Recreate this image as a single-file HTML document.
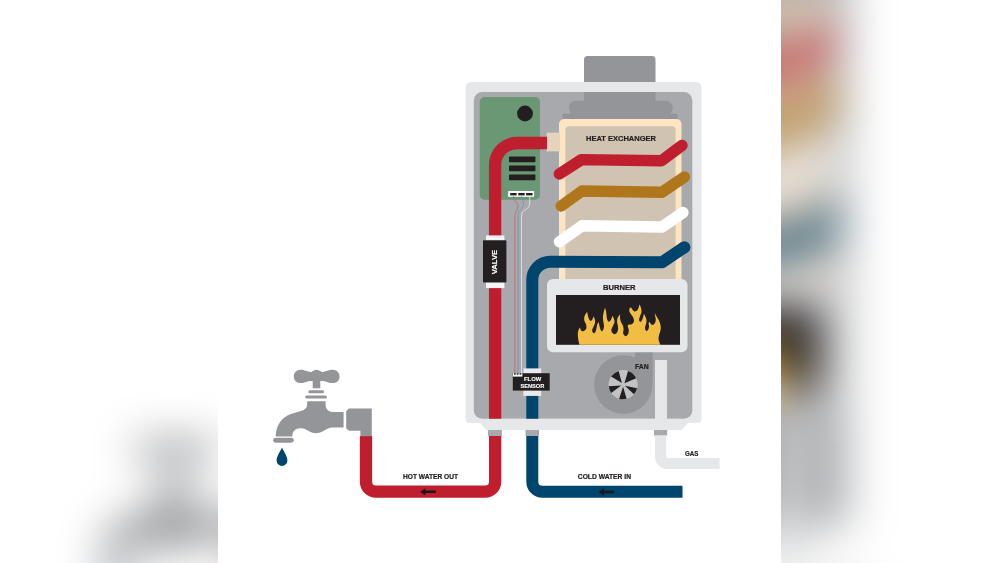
<!DOCTYPE html>
<html>
<head>
<meta charset="utf-8">
<title>Tankless water heater diagram</title>
<style>
html,body{margin:0;padding:0;background:#fff;}
body{width:1000px;height:563px;overflow:hidden;position:relative;font-family:"Liberation Sans",sans-serif;}
svg{position:absolute;left:0;top:0;display:block;}
text{font-family:"Liberation Sans",sans-serif;font-weight:bold;stroke-width:0.22px;paint-order:stroke fill;}
text[fill="#231f20"]{stroke:#231f20;}
text[fill="#fff"]{stroke:#fff;stroke-width:0.12px;}
</style>
</head>
<body>
<svg width="1000" height="563" viewBox="0 0 1000 563">
<defs>
<filter id="blur" filterUnits="userSpaceOnUse" x="0" y="0" width="1000" height="563" color-interpolation-filters="sRGB"><feGaussianBlur stdDeviation="22" edgeMode="duplicate"/></filter>
<g id="d">
<!-- vent cap -->
<path d="M584,82 V59.500 a3.500,3.500 0 0 1 3.500,-3.500 H652 a3.500,3.500 0 0 1 3.500,3.500 V82 Z" fill="#939598"/>
<!-- body outer -->
<path d="M471,82 H696 a5.500,5.500 0 0 1 5.500,5.500 V419 a4,4 0 0 1 -4,4 H688 L681.5,430 H486.5 L480,423 H469.5 a4,4 0 0 1 -4,-4 V87.500 a5.500,5.500 0 0 1 5.500,-5.500 Z" fill="#e6e7e8"/>
<!-- body inner -->
<rect x="473.800" y="92" width="218.500" height="326.800" rx="8.500" ry="8.500" fill="#a7a9ac"/>
<!-- inner vent -->
<rect x="584" y="92" width="71.500" height="15" fill="#939598"/>
<rect x="568.800" y="100.800" width="104" height="13.400" rx="6.600" ry="6.600" fill="#939598"/>
<rect x="562.400" y="113.800" width="115.200" height="7" rx="1.500" ry="1.500" fill="#939598"/>
<rect x="570" y="108" width="100" height="8" fill="#939598"/>
<!-- fan housing -->
<circle cx="623.3" cy="384.5" r="29.2" fill="#939598"/>
<rect x="635" y="350" width="17.700" height="35" fill="#939598"/>
<circle cx="623.1" cy="384.700" r="14.600" fill="#c1c2c4"/>
<g fill="#231f20" transform="translate(623.1,384.700)">
<path d="M-1.20,-1.60 L-12.02,-8.11 A14.5,14.5 0 0 1 -4.48,-13.79 Z"/>
<path d="M1.34,-1.49 L4.96,-13.63 A14.5,14.5 0 0 1 13.03,-6.36 Z"/>
<path d="M1.77,0.94 L14.04,3.63 A14.5,14.5 0 0 1 10.86,9.61 Z"/>
<path d="M-0.03,2.00 L3.51,14.07 A14.5,14.5 0 0 1 -4.00,13.94 Z"/>
<path d="M-1.87,0.70 L-11.95,8.21 A14.5,14.5 0 0 1 -14.41,1.64 Z"/>
</g>
<!-- gas pipe inside -->
<rect x="655" y="360" width="12" height="70" fill="#e6e7e8"/>
<!-- green board -->
<rect x="479.800" y="97" width="60.200" height="102.700" rx="4.800" ry="4.800" fill="#6a9774"/>
<circle cx="525" cy="113.500" r="7.900" fill="#231f20"/>
<rect x="509" y="156.500" width="26.400" height="5.800" rx="0.800" ry="0.800" fill="#231f20"/>
<rect x="509" y="165.500" width="26.400" height="5.800" rx="0.800" ry="0.800" fill="#231f20"/>
<rect x="509" y="174.500" width="26.400" height="5.800" rx="0.800" ry="0.800" fill="#231f20"/>
<rect x="508.200" y="191" width="25.900" height="5.800" fill="#fff"/>
<rect x="510.200" y="193" width="6.400" height="2.400" fill="#231f20"/>
<rect x="518.300" y="193" width="6.400" height="2.400" fill="#231f20"/>
<rect x="526.100" y="193" width="6.400" height="2.400" fill="#231f20"/>
<!-- wires -->
<g fill="none" stroke-width="0.600">
<path d="M513.5,196 C513.5,202 518,202 518,206 C518,211 514.8,211 514.8,216 V373.600" stroke="#c8524f"/>
<path d="M521.700,196 C521.700,200 523.500,200 523.500,203 C524,210 518,209 518,216 V373.600" stroke="#5f8fb8"/>
<path d="M529.700,196 V203 C529.700,211 521.500,208 521.500,216 V373.600" stroke="#fff"/>
</g>
<!-- heat exchanger -->
<rect x="559" y="119" width="122.500" height="165" rx="5" ry="5" fill="#fde4c3"/>
<rect x="546.600" y="132.600" width="13.400" height="18.800" fill="#e3d3bf"/>
<rect x="565.400" y="126.200" width="110.200" height="158" rx="4" ry="4" fill="#d1c3b2"/>
<!-- burner -->
<rect x="547" y="279" width="140.500" height="73.200" rx="6" ry="6" fill="#e6e7e8"/>
<rect x="556" y="295" width="124" height="49.800" fill="#231f20"/>
<path id="flame" d="M579.50,344.80 C579.33,344.17 578.75,342.30 578.50,341.00 C578.25,339.70 578.12,338.33 578.00,337.00 C577.88,335.67 577.70,334.20 577.80,333.00 C577.90,331.80 578.23,330.75 578.60,329.80 C578.97,328.85 579.77,327.72 580.00,327.30 C580.10,327.67 580.30,328.87 580.60,329.50 C580.90,330.13 581.32,330.82 581.80,331.10 C582.28,331.38 582.88,331.42 583.50,331.20 C584.12,330.98 585.00,330.47 585.50,329.80 C586.00,329.13 586.45,328.20 586.50,327.20 C586.55,326.20 586.18,325.00 585.80,323.80 C585.42,322.60 584.40,321.30 584.20,320.00 C584.00,318.70 584.10,317.37 584.60,316.00 C585.10,314.63 586.77,312.50 587.20,311.80 C587.30,312.37 587.53,314.08 587.80,315.20 C588.07,316.32 588.38,317.57 588.80,318.50 C589.22,319.43 589.80,320.52 590.30,320.80 C590.80,321.08 591.35,320.67 591.80,320.20 C592.25,319.73 592.68,318.65 593.00,318.00 C593.32,317.35 593.58,316.58 593.70,316.30 C593.88,316.83 594.58,318.38 594.80,319.50 C595.02,320.62 595.20,321.83 595.00,323.00 C594.80,324.17 594.07,325.33 593.60,326.50 C593.13,327.67 592.33,329.00 592.20,330.00 C592.07,331.00 592.47,331.97 592.80,332.50 C593.13,333.03 593.73,333.37 594.20,333.20 C594.67,333.03 595.22,332.37 595.60,331.50 C595.98,330.63 596.23,329.17 596.50,328.00 C596.77,326.83 596.87,325.50 597.20,324.50 C597.53,323.50 598.28,322.42 598.50,322.00 C598.63,322.50 599.05,324.00 599.30,325.00 C599.55,326.00 599.73,327.10 600.00,328.00 C600.27,328.90 600.55,329.87 600.90,330.40 C601.25,330.93 601.68,331.40 602.10,331.20 C602.52,331.00 603.08,330.07 603.40,329.20 C603.72,328.33 604.00,327.20 604.00,326.00 C604.00,324.80 603.58,323.33 603.40,322.00 C603.22,320.67 602.88,319.50 602.90,318.00 C602.92,316.50 603.15,314.70 603.50,313.00 C603.85,311.30 604.75,308.67 605.00,307.80 C605.17,308.33 605.75,309.80 606.00,311.00 C606.25,312.20 606.32,313.63 606.50,315.00 C606.68,316.37 606.72,318.07 607.10,319.20 C607.48,320.33 608.23,321.57 608.80,321.80 C609.37,322.03 610.03,321.20 610.50,320.60 C610.97,320.00 611.27,319.00 611.60,318.20 C611.93,317.40 612.35,316.20 612.50,315.80 C612.75,316.33 613.67,317.93 614.00,319.00 C614.33,320.07 614.67,321.08 614.50,322.20 C614.33,323.32 613.50,324.53 613.00,325.70 C612.50,326.87 611.67,328.05 611.50,329.20 C611.33,330.35 611.45,331.75 612.00,332.60 C612.55,333.45 613.97,334.30 614.80,334.30 C615.63,334.30 616.45,333.48 617.00,332.60 C617.55,331.72 617.98,330.27 618.10,329.00 C618.22,327.73 617.88,326.33 617.70,325.00 C617.52,323.67 616.95,322.30 617.00,321.00 C617.05,319.70 617.45,318.32 618.00,317.20 C618.55,316.08 619.92,314.78 620.30,314.30 C620.25,314.92 619.88,316.72 620.00,318.00 C620.12,319.28 620.52,320.75 621.00,322.00 C621.48,323.25 622.47,324.30 622.90,325.50 C623.33,326.70 623.57,327.95 623.60,329.20 C623.63,330.45 622.95,331.95 623.10,333.00 C623.25,334.05 623.98,334.98 624.50,335.50 C625.02,336.02 625.60,336.35 626.20,336.10 C626.80,335.85 627.67,334.98 628.10,334.00 C628.53,333.02 628.83,331.37 628.80,330.20 C628.77,329.03 628.07,327.83 627.90,327.00 C627.73,326.17 627.58,325.60 627.80,325.20 C628.02,324.80 628.62,324.73 629.20,324.60 C629.78,324.47 630.63,324.67 631.30,324.40 C631.97,324.13 632.75,323.67 633.20,323.00 C633.65,322.33 634.05,321.40 634.00,320.40 C633.95,319.40 633.48,318.15 632.90,317.00 C632.32,315.85 631.12,314.58 630.50,313.50 C629.88,312.42 629.28,311.50 629.20,310.50 C629.12,309.50 629.87,308.00 630.00,307.50 C630.27,307.60 631.15,307.68 631.60,308.10 C632.05,308.52 632.18,309.43 632.70,310.00 C633.22,310.57 633.98,311.42 634.70,311.50 C635.42,311.58 636.37,311.08 637.00,310.50 C637.63,309.92 638.08,309.03 638.50,308.00 C638.92,306.97 639.33,304.92 639.50,304.30 C639.75,304.92 640.67,306.72 641.00,308.00 C641.33,309.28 641.65,310.67 641.50,312.00 C641.35,313.33 640.50,314.77 640.10,316.00 C639.70,317.23 639.15,318.50 639.10,319.40 C639.05,320.30 639.50,321.00 639.80,321.40 C640.10,321.80 640.52,322.03 640.90,321.80 C641.28,321.57 641.73,320.80 642.10,320.00 C642.47,319.20 642.78,318.03 643.10,317.00 C643.42,315.97 643.85,314.33 644.00,313.80 C644.25,314.33 645.08,315.93 645.50,317.00 C645.92,318.07 646.42,319.03 646.50,320.20 C646.58,321.37 646.25,322.78 646.00,324.00 C645.75,325.22 645.08,326.50 645.00,327.50 C644.92,328.50 645.17,329.43 645.50,330.00 C645.83,330.57 646.50,331.05 647.00,330.90 C647.50,330.75 648.17,329.88 648.50,329.10 C648.83,328.32 648.98,327.12 649.00,326.20 C649.02,325.28 648.55,324.33 648.60,323.60 C648.65,322.87 649.18,322.10 649.30,321.80 C649.50,322.10 650.08,323.10 650.50,323.60 C650.92,324.10 651.33,324.60 651.80,324.80 C652.27,325.00 652.77,325.10 653.30,324.80 C653.83,324.50 654.58,323.87 655.00,323.00 C655.42,322.13 655.78,320.77 655.80,319.60 C655.82,318.43 655.27,317.10 655.10,316.00 C654.93,314.90 654.85,313.50 654.80,313.00 C655.10,313.60 655.90,315.33 656.60,316.60 C657.30,317.87 658.35,319.20 659.00,320.60 C659.65,322.00 660.23,323.43 660.50,325.00 C660.77,326.57 660.83,328.33 660.60,330.00 C660.37,331.67 659.45,333.50 659.10,335.00 C658.75,336.50 658.45,337.75 658.50,339.00 C658.55,340.25 659.07,341.53 659.40,342.50 C659.73,343.47 660.32,344.42 660.50,344.80 Z" fill="#f1bd45"/>
<!-- coils -->
<g fill="none" stroke-width="11.400" stroke-linecap="round" stroke-linejoin="round">
<path d="M559.3,174 L581.5,159.600 L661.5,160.800 L682,145.400" stroke="#be1e2d"/>
<path d="M561.2,206 L582,191 L662,192.200 L684.400,177" stroke="#b0761b"/>
<path d="M559.4,241.800 L582,225.800 L662,227 L683,212.500" stroke="#fff"/>
</g>
<!-- blue pipe -->
<path d="M684.400,247.200 L662.200,262.200 L550.300,261.800 A18,18 0 0 0 532.300,279.800 V481.800 A10,10 0 0 0 542.300,491.800 H682.500" fill="none" stroke="#00456d" stroke-width="12" stroke-linejoin="round"/>
<circle cx="684.400" cy="247.200" r="6" fill="#00456d"/>
<!-- red pipe -->
<path d="M547,143 H517.100 A22,22 0 0 0 495.100,165 V481.700 A10,10 0 0 1 485.100,491.700 H376 A10,10 0 0 1 366,481.700 V436" fill="none" stroke="#be1e2d" stroke-width="12.300"/>
<!-- frame bottom cover -->
<rect x="487" y="418.800" width="194" height="11.200" fill="#e6e7e8"/>
<!-- grey stubs -->
<rect x="488" y="430" width="13.800" height="6" fill="#a7a9ac"/>
<rect x="525.500" y="430" width="13.600" height="6" fill="#a7a9ac"/>
<rect x="654" y="430" width="13.200" height="5.600" fill="#a7a9ac"/>
<!-- gas pipe outside -->
<path d="M660.600,435.600 V456.500 A7,7 0 0 0 667.600,463.500 H719.600" fill="none" stroke="#e6e7e8" stroke-width="11.200"/>
<!-- valve -->
<rect x="486" y="235.400" width="18.400" height="52.700" fill="#f4f4f5"/>
<rect x="483" y="240.200" width="23.400" height="42.300" rx="1" ry="1" fill="#231f20"/>
<!-- flow sensor -->
<rect x="523.400" y="368.400" width="17.800" height="27.500" fill="#e9eaeb"/>
<rect x="512.800" y="373.200" width="36.900" height="17.400" fill="#231f20"/>
<rect x="513" y="373.200" width="9.400" height="3.400" fill="#fff"/>
<rect x="514" y="373.200" width="1.700" height="1.500" fill="#231f20"/>
<rect x="516.800" y="373.200" width="1.700" height="1.500" fill="#231f20"/>
<rect x="519.600" y="373.200" width="1.700" height="1.500" fill="#231f20"/>
<!-- faucet -->
<g fill="#939598">
<path d="M346.200,411.200 L348.800,408.400 H371.800 V436.200 H360.400 V430.800 H349.200 L346.200,428.400 Z"/>
<path d="M307.200,401.200 H325.600 V404.600 C325.600,409 328,412 332.500,412 H343.600 V427.600 H332 C326.500,427.600 323.500,433.200 316.400,433.200 C309.500,433.200 307,428.400 301,428.200 C295.500,428 292.300,431 292.300,436.500 H275.700 C275.700,424 283,415 296,412.400 C303,411 307.200,409 307.200,404.600 Z"/>
<rect x="273.100" y="437.800" width="20.700" height="4.900" rx="2.450" ry="2.450"/>
<rect x="305.200" y="395.600" width="21.700" height="3" rx="1.500" ry="1.500"/>
<rect x="308.300" y="390.300" width="15.800" height="3" rx="1.500" ry="1.500"/>
<rect x="312.700" y="378" width="7.600" height="10.300"/>
<path d="M300.500,369.800 C305,369.800 307,372 311,372 C312.500,372 313,370 316.600,370 C320.200,370 320.800,372 322.300,372 C326,372 328,369.800 332.800,369.800 C337,369.800 339.600,372.800 339.600,376.400 C339.600,380 337,383 332.800,383 C328,383 326,380.900 322.300,380.900 H311 C307,380.900 305,383 300.500,383 C296.500,383 293.800,380 293.800,376.400 C293.800,372.800 296.500,369.800 300.500,369.800 Z"/>
</g>
<path d="M282,447.400 C284,452 287.400,456 287.400,460.500 A5.400,5.400 0 0 1 276.600,460.500 C276.600,456 280,452 282,447.400 Z" fill="#00456d"/>
<!-- arrows -->
<path id="arr" d="M420.200,491.800 L425.400,488.200 V490.500 H435.800 V493.100 H425.400 V495.400 Z" fill="#1c1718"/>
<path d="M598.800,492 L603.900,488.300 V490.700 H613.800 V493.300 H603.900 V495.700 Z" fill="#1c1718"/>
<!-- labels -->
<text x="586" y="141.300" font-size="7.800" fill="#231f20" textLength="70" lengthAdjust="spacingAndGlyphs">HEAT EXCHANGER</text>
<text x="602.900" y="289.800" font-size="7" fill="#231f20" textLength="32.600" lengthAdjust="spacingAndGlyphs">BURNER</text>
<text x="635" y="368.600" font-size="6.600" fill="#231f20" textLength="13.700" lengthAdjust="spacingAndGlyphs">FAN</text>
<text x="685" y="455.600" font-size="6.600" fill="#231f20" textLength="13.300" lengthAdjust="spacingAndGlyphs">GAS</text>
<text x="403" y="479.200" font-size="6.300" fill="#231f20" textLength="55" lengthAdjust="spacingAndGlyphs">HOT WATER OUT</text>
<text x="577.800" y="479.200" font-size="6.300" fill="#231f20" textLength="53.200" lengthAdjust="spacingAndGlyphs">COLD WATER IN</text>
<text x="524" y="380.700" font-size="6" fill="#fff" textLength="17.200" lengthAdjust="spacingAndGlyphs">FLOW</text>
<text x="520.400" y="387.500" font-size="6" fill="#fff" textLength="24" lengthAdjust="spacingAndGlyphs">SENSOR</text>
<text transform="translate(497.400,274.200) rotate(-90)" font-size="8" fill="#fff" textLength="24.400" lengthAdjust="spacingAndGlyphs">VALVE</text>
</g>
</defs>
<rect width="1000" height="563" fill="#fff"/>
<g filter="url(#blur)">
<rect x="-100" y="-100" width="1200" height="763" fill="#fff"/>
<use href="#d" transform="translate(-387.200,-218.500) scale(1.77620)"/>
</g>
<rect x="218" y="0" width="563" height="563" fill="#fff"/>
<g opacity="0.999"><use href="#d"/></g>
</svg>
</body>
</html>
